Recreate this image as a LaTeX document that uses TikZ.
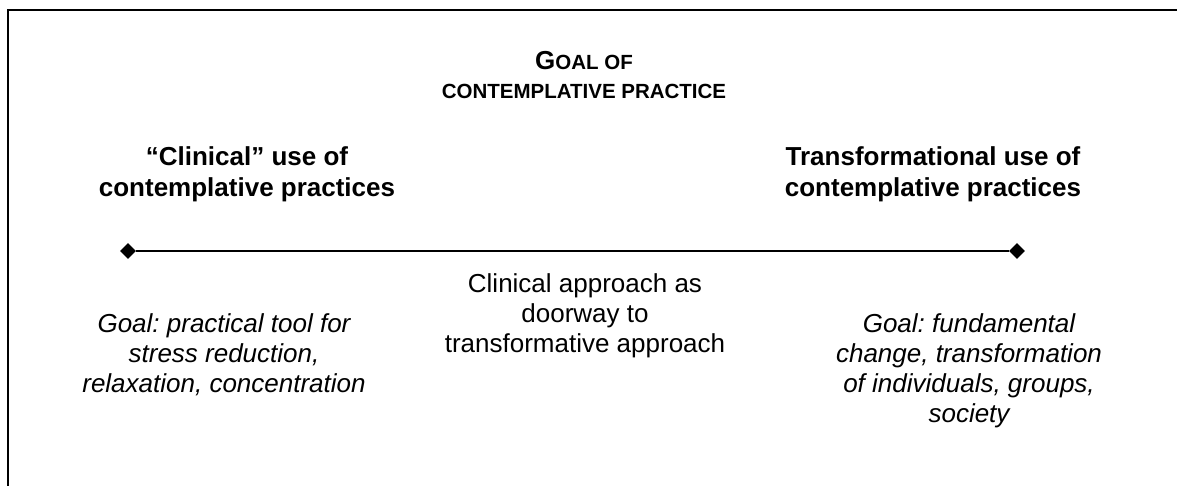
\documentclass[tikz,border=0pt]{standalone}
\usepackage{fontspec}
\setmainfont{Liberation Sans}
\usetikzlibrary{shapes.geometric}
\frenchspacing
\begin{document}
\begin{tikzpicture}[x=1pt,y=-1pt,
  txt/.style={inner sep=0pt, align=center, anchor=north},
  heading/.style={txt, font=\fontsize{26}{31}\selectfont\bfseries},
  bodytxt/.style={txt, font=\fontsize{26}{30}\selectfont},
  bodyit/.style={txt, font=\fontsize{26}{30}\selectfont\itshape},
  goalhead/.style={txt, font=\fontsize{20.5}{29}\selectfont\bfseries},
  endpt/.style={diamond, fill=black, inner sep=0pt, minimum size=16pt},
  axis/.style={line width=2pt},
  frame/.style={line width=2pt}]
\useasboundingbox (0,0) rectangle (1177,485);
\draw[frame] (7.7,486) -- (7.7,9.5) -- (1178,9.5);
\node[goalhead] (goal) at (584,51.5) {{\fontsize{26}{29}\selectfont G}OAL OF\\CONTEMPLATIVE PRACTICE};
\node[heading] (clin) at (247,146) {“Clinical” use of\\contemplative practices};
\node[heading] (trans) at (933,146) {Transformational use of\\contemplative practices};
\node[endpt] (dl) at (128,251) {};
\node[endpt] (dr) at (1017,251) {};
\draw[axis] (dl) -- (dr);
\node[bodyit] (lgoal) at (224,313) {Goal: practical tool for\\stress reduction,\\relaxation, concentration};
\node[bodytxt] (mid) at (585,273) {Clinical approach as\\doorway to\\transformative approach};
\node[bodyit] (rgoal) at (969,313) {Goal: fundamental\\change, transformation\\of individuals, groups,\\society};
\end{tikzpicture}
\end{document}
